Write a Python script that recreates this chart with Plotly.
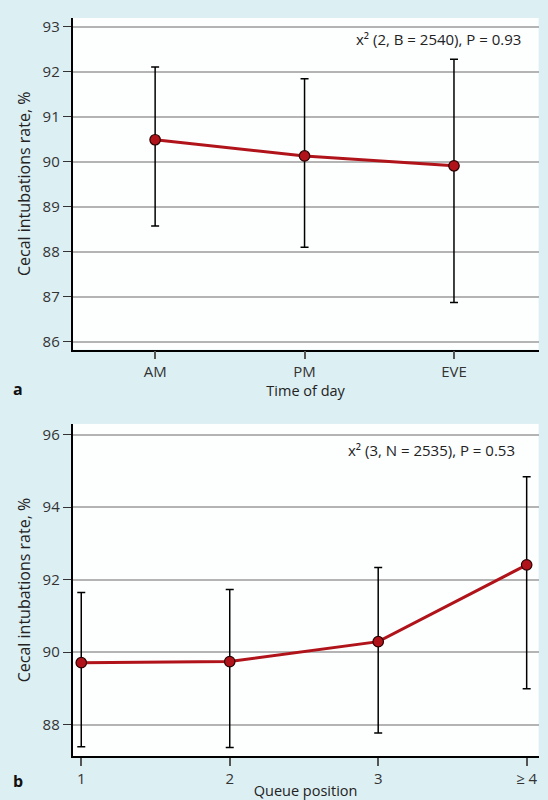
import plotly.graph_objects as go

# ---- data: panel a ----
time_cats = ["AM", "PM", "EVE"]
time_rate = [90.49, 90.13, 89.91]
time_upper = [92.11, 91.85, 92.28]
time_lower = [88.57, 88.10, 86.87]
time_ticks = [86, 87, 88, 89, 90, 91, 92, 93]

# ---- data: panel b ----
queue_cats = ["1", "2", "3", "≥ 4"]
queue_rate = [89.71, 89.74, 90.29, 92.41]
queue_upper = [91.65, 91.73, 92.34, 94.84]
queue_lower = [87.39, 87.37, 87.77, 88.99]
queue_ticks = [88, 90, 92, 94, 96]

stat_a = "x² (2, B = 2540), P = 0.93"
stat_b = "x² (3, N = 2535), P = 0.53"
ytitle = "Cecal intubations rate, %"

BG = "#dceff3"
RED = "#b0141a"
FONT = "Open Sans"
W, H = 548, 800

fig = go.Figure()

def add_panel(cats, rate, upper, lower, xa, ya):
    fig.add_trace(go.Scatter(
        x=cats, y=rate, mode="lines+markers",
        line=dict(color=RED, width=3),
        marker=dict(size=10.5, color=RED, line=dict(color="#2a0000", width=1.2)),
        error_y=dict(type="data", symmetric=False,
                     array=[u - r for u, r in zip(upper, rate)],
                     arrayminus=[r - l for r, l in zip(rate, lower)],
                     color="black", thickness=1.5, width=4),
        xaxis=xa, yaxis=ya, showlegend=False, cliponaxis=False,
    ))

add_panel(time_cats, time_rate, time_upper, time_lower, "x", "y")
add_panel(queue_cats, queue_rate, queue_upper, queue_lower, "x2", "y2")

xd = [72.5 / W, 538.7 / W]
ya_dom = [1 - 349 / H, 1 - 16 / H]
yb_dom = [1 - 757 / H, 1 - 423.5 / H]

tickfont = dict(family=FONT, size=15, color="#333333")
titlefont = dict(family=FONT, size=14.5, color="#222222")
ytitlefont = dict(family=FONT, size=16, color="#222222")

common_x = dict(showline=True, linecolor="black", linewidth=1.5,
                ticks="outside", ticklen=8, tickcolor="#555555", tickwidth=1.5,
                showgrid=False, zeroline=False, tickfont=tickfont,
                type="category")
common_y = dict(showline=True, linecolor="black", linewidth=1.5,
                ticks="outside", ticklen=8, tickcolor="#333333", tickwidth=1.2,
                showgrid=True, gridcolor="#b4b4b4", gridwidth=1.5,
                zeroline=False, tickfont=tickfont)

fig.update_layout(
    width=W, height=H,
    paper_bgcolor=BG, plot_bgcolor="#fdfefe",
    margin=dict(l=0, r=0, t=0, b=0),
    font=dict(family=FONT),
    xaxis=dict(common_x, domain=xd, anchor="y", range=[-0.553, 2.567],
               title=dict(text="Time of day", font=titlefont, standoff=0)),
    yaxis=dict(common_y, domain=ya_dom, anchor="x", range=[85.82, 93.2],
               tickvals=time_ticks,
               title=dict(text=ytitle, font=ytitlefont, standoff=8)),
    xaxis2=dict(common_x, domain=xd, anchor="y2", range=[-0.059, 3.081],
                title=dict(text="Queue position", font=titlefont, standoff=0)),
    yaxis2=dict(common_y, domain=yb_dom, anchor="x2", range=[87.13, 96.3],
                tickvals=queue_ticks,
                title=dict(text=ytitle, font=ytitlefont, standoff=8)),
    annotations=[
        dict(text=stat_a, xref="paper", yref="paper", x=523 / W, y=1 - 37 / H,
             xanchor="right", yanchor="middle", showarrow=False,
             font=dict(family=FONT, size=15, color="#222222")),
        dict(text=stat_b, xref="paper", yref="paper", x=517 / W, y=1 - 450 / H,
             xanchor="right", yanchor="middle", showarrow=False,
             font=dict(family=FONT, size=15, color="#222222")),
        dict(text="<b>a</b>", xref="paper", yref="paper", x=11 / W, y=1 - 388 / H,
             xanchor="left", yanchor="middle", showarrow=False,
             font=dict(family=FONT, size=16, color="#111111")),
        dict(text="<b>b</b>", xref="paper", yref="paper", x=11 / W, y=1 - 782 / H,
             xanchor="left", yanchor="middle", showarrow=False,
             font=dict(family=FONT, size=16, color="#111111")),
    ],
)

fig.write_html("out.html",
               config={"displayModeBar": False},
               post_script="document.body.style.margin='0';"
                           "document.body.style.overflow='hidden';")
